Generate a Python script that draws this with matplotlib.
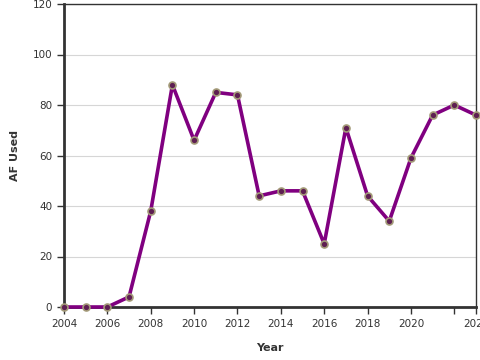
import matplotlib
matplotlib.use("Agg")
import matplotlib.pyplot as plt

years = list(range(2004, 2024))
af_used = [0, 0, 0, 4, 38, 88, 66, 85, 84, 44, 46, 46, 25, 71, 44, 34, 59, 76, 80, 76]

tick_years = [2004, 2006, 2008, 2010, 2012, 2014, 2016, 2018, 2020, 2022, 2023]
tick_labels = ["2004", "2006", "2008", "2010", "2012", "2014", "2016", "2018", "2020", "", "2023"]
y_ticks = [0, 20, 40, 60, 80, 100, 120]

fig = plt.figure(figsize=(4.8, 3.6), dpi=100)
ax = fig.add_axes([64 / 480, 53 / 360, 412 / 480, 303 / 360])

ax.plot(years, af_used, color="#800080", linewidth=2.6, zorder=3,
        marker="o", markersize=5, markerfacecolor="#5e1f52",
        markeredgecolor="#a39a78", markeredgewidth=1.2, clip_on=False)

ax.set_xlim(2004, 2023)
ax.set_ylim(0, 120)
ax.set_xticks(tick_years)
ax.set_xticklabels(tick_labels)
ax.set_yticks(y_ticks)
ax.grid(axis="y", color="#d6d6d6", linewidth=0.8)
ax.set_axisbelow(True)

for side in ["left", "bottom"]:
    ax.spines[side].set_linewidth(2)
    ax.spines[side].set_color("#333333")
for side in ["top", "right"]:
    ax.spines[side].set_linewidth(1)
    ax.spines[side].set_color("#333333")

ax.tick_params(axis="both", labelsize=7.5, colors="#333333", length=5, width=1)
ax.set_xlabel("Year", fontsize=8, fontweight="bold", color="#333333", labelpad=10)
ax.set_ylabel("AF Used", fontsize=8, fontweight="bold", color="#333333", labelpad=9)

fig.savefig("out.png", dpi=100)
